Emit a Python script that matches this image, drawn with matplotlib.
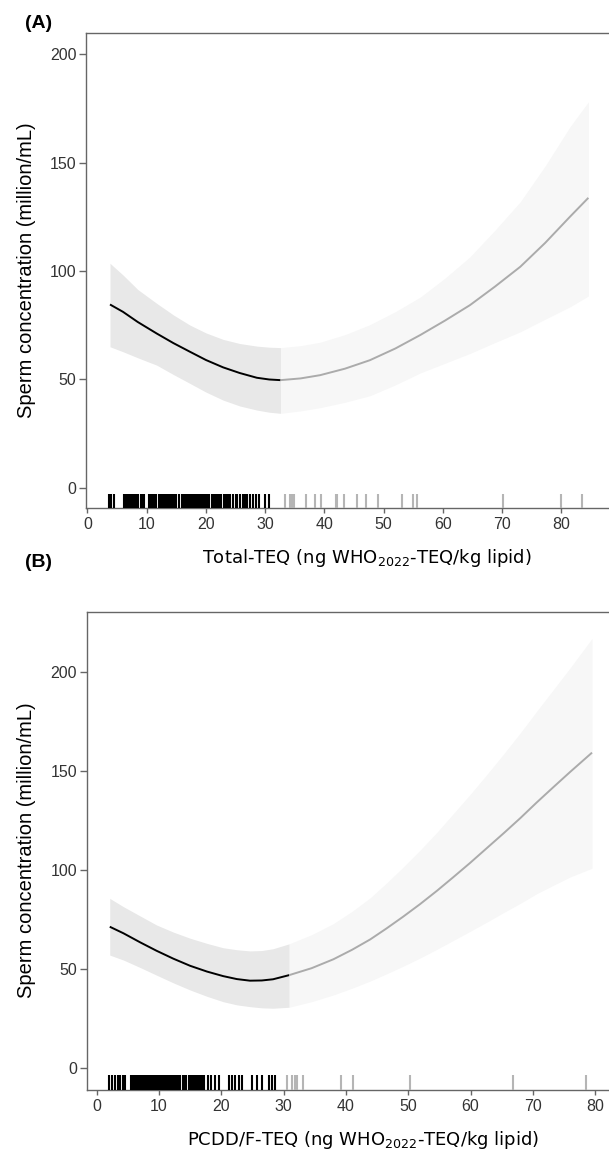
# restricted cubic spline fits of sperm concentration vs TEQ, two panels
import numpy as np
import matplotlib.pyplot as plt

plt.rcParams['font.family'] = ['Liberation Sans', 'DejaVu Sans']
plt.rcParams['mathtext.fontset'] = 'dejavusans'

# ---- panel A : Total-TEQ ----
a_x_in = [3.8, 6.0, 8.5, 11.7, 14.5, 17.3, 20.0, 22.9, 25.7, 28.6, 30.7, 32.6]
a_fit_in = [84.6, 81.2, 76.5, 71.2, 66.8, 62.8, 59.0, 55.6, 53.0, 50.8, 50.0, 49.7]
a_lo_in = [65.1, 62.8, 60.0, 56.6, 52.3, 48.2, 44.2, 40.5, 37.8, 35.9, 34.9, 34.4]
a_hi_in = [103.6, 98.2, 91.5, 85.1, 79.8, 75.1, 71.5, 68.5, 66.6, 65.4, 64.9, 64.7]

a_x_out = [32.6, 36.0, 39.3, 43.5, 47.7, 52.0, 56.2, 60.4, 64.6, 68.8, 73.1,
           77.3, 81.5, 84.6]
a_fit_out = [49.7, 50.5, 52.0, 55.0, 58.9, 64.3, 70.5, 77.2, 84.3, 92.8,
             102.0, 113.0, 125.1, 133.8]
a_lo_out = [34.4, 35.5, 37.0, 39.5, 42.5, 47.5, 53.0, 57.5, 62.0, 67.0, 72.0,
            77.8, 83.5, 88.5]
a_hi_out = [64.7, 65.6, 67.2, 70.7, 75.3, 81.3, 88.0, 96.8, 106.6, 118.8,
            132.0, 148.5, 166.6, 178.1]

a_rug_in = [3.6, 4.0, 4.5, 6.2, 6.5, 6.8, 7.1, 7.4, 7.7, 8.0, 8.3, 8.6, 9.0,
            9.3, 9.6, 10.4, 10.7, 11.0, 11.3, 11.6, 12.0, 12.3, 12.6, 12.9,
            13.3, 13.6, 13.9, 14.2, 14.6, 14.9, 15.5, 15.9, 16.2, 16.5, 16.8,
            17.1, 17.4, 17.8, 18.1, 18.4, 18.7, 19.0, 19.4, 19.7, 20.0, 20.3,
            20.6, 21.0, 21.3, 21.6, 21.9, 22.2, 22.6, 23.0, 23.4, 23.7, 24.0,
            24.6, 25.0, 25.3, 25.7, 26.3, 26.6, 27.0, 27.5, 28.0, 28.4, 29.0,
            30.0, 30.7]
a_rug_out = [33.4, 34.2, 34.5, 34.8, 36.9, 38.4, 39.4, 42.0, 42.2, 43.3, 45.6,
             47.0, 49.0, 53.2, 54.9, 55.7, 70.1, 80.0, 83.5]

# ---- panel B : PCDD/F-TEQ ----
b_x_in = [2.1, 4.3, 7.0, 9.6, 12.3, 15.0, 17.7, 20.3, 22.5, 24.6, 26.5, 28.3,
          30.9]
b_fit_in = [71.4, 68.1, 63.5, 59.3, 55.3, 51.7, 48.8, 46.5, 45.0, 44.2, 44.3,
            44.9, 47.0]
b_lo_in = [57.1, 54.6, 50.8, 47.0, 43.1, 39.5, 36.3, 33.6, 32.0, 31.1, 30.5,
           30.3, 30.8]
b_hi_in = [85.7, 81.5, 76.8, 72.3, 68.7, 65.6, 63.0, 60.8, 59.8, 59.2, 59.4,
           60.3, 62.8]

b_x_out = [30.9, 34.5, 38.0, 41.0, 43.9, 46.5, 49.2, 51.9, 54.6, 57.2, 59.9,
           62.6, 65.3, 68.0, 70.6, 73.3, 76.0, 79.5]
b_fit_out = [47.0, 50.5, 55.0, 59.8, 65.0, 70.5, 76.5, 82.8, 89.5, 96.3,
             103.5, 111.0, 118.5, 126.2, 134.0, 141.8, 149.5, 159.2]
b_lo_out = [30.8, 33.6, 37.0, 40.4, 44.0, 47.6, 51.5, 55.6, 60.0, 64.4, 69.0,
            73.7, 78.5, 83.2, 88.0, 92.3, 96.5, 100.9]
b_hi_out = [62.8, 67.4, 73.0, 79.2, 86.0, 93.4, 101.5, 110.0, 119.0, 128.3,
            138.0, 148.1, 158.5, 169.2, 180.0, 191.0, 202.0, 216.8]

b_rug_in = [2.0, 2.4, 3.0, 3.4, 3.7, 4.2, 4.5, 5.5, 5.8, 6.1, 6.4, 6.7, 7.0,
            7.3, 7.6, 7.9, 8.2, 8.5, 8.8, 9.1, 9.4, 9.7, 10.0, 10.4, 10.7,
            11.0, 11.3, 11.6, 11.9, 12.2, 12.5, 12.8, 13.1, 13.4, 13.8, 14.1,
            14.4, 14.8, 15.1, 15.4, 15.7, 16.0, 16.3, 16.6, 16.9, 17.2, 17.8,
            18.3, 19.0, 19.7, 21.3, 21.7, 22.2, 22.9, 23.3, 25.0, 25.7, 26.5,
            27.7, 28.1, 28.6]
b_rug_out = [30.5, 31.3, 31.8, 32.2, 33.1, 39.2, 41.1, 50.3, 66.8, 78.5]

xticks = [0, 10, 20, 30, 40, 50, 60, 70, 80]
yticks = [0, 50, 100, 150, 200]

dark_band = '#e8e8e8'
light_band = '#f7f7f7'
grey_line = '#ababab'
spine_col = '#666666'

# the panels run past the right edge of the page (cropped in the original)
fig = plt.figure(figsize=(6.09, 11.51), dpi=100)
axA = fig.add_axes([86.3 / 609, 0.5586, (647 - 86.3) / 609, 0.4125])
axB = fig.add_axes([86.7 / 609, 0.0534, (640 - 86.7) / 609, 0.4152])


def draw_panel(ax, x_in, fit_in, lo_in, hi_in, x_out, fit_out, lo_out, hi_out,
               rug_in, rug_out, xlim, ylim, xlabel):
    ax.fill_between(x_in, lo_in, hi_in, color=dark_band, lw=0, zorder=1)
    ax.fill_between(x_out, lo_out, hi_out, color=light_band, lw=0, zorder=1)
    ax.plot(x_in, fit_in, color='black', lw=1.4, zorder=3,
            solid_capstyle='butt', solid_joinstyle='round')
    ax.plot(x_out, fit_out, color=grey_line, lw=1.4, zorder=3,
            solid_capstyle='butt', solid_joinstyle='round')
    trans = ax.get_xaxis_transform()
    ax.vlines(rug_in, 0, 0.03, transform=trans, color='black', lw=1.5,
              zorder=4)
    ax.vlines(rug_out, 0, 0.03, transform=trans, color='#b5b5b5', lw=1.5,
              zorder=4)
    ax.set_xlim(*xlim)
    ax.set_ylim(*ylim)
    ax.set_xticks(xticks)
    ax.set_yticks(yticks)
    ax.spines['right'].set_visible(False)
    for s in ['left', 'top', 'bottom']:
        ax.spines[s].set_color(spine_col)
        ax.spines[s].set_linewidth(1.0)
    ax.tick_params(axis='both', colors='#333333', labelsize=11.5, width=1.0)
    ax.tick_params(axis='x', length=3.5, pad=3)
    ax.tick_params(axis='y', length=5, pad=2)
    ax.tick_params(axis='both', color=spine_col)
    ax.set_ylabel('Sperm concentration (million/mL)', fontsize=14.5,
                  labelpad=10)
    ax.set_xlabel(xlabel, fontsize=13, family=['DejaVu Sans'], labelpad=11)


draw_panel(axA, a_x_in, a_fit_in, a_lo_in, a_hi_in,
           a_x_out, a_fit_out, a_lo_out, a_hi_out,
           a_rug_in, a_rug_out, (-0.2, 94.5), (-9.3, 209.7),
           r'Total-TEQ (ng WHO$_{2022}$-TEQ/kg lipid)')
draw_panel(axB, b_x_in, b_fit_in, b_lo_in, b_hi_in,
           b_x_out, b_fit_out, b_lo_out, b_hi_out,
           b_rug_in, b_rug_out, (-1.6, 87.2), (-10.7, 230.3),
           r'PCDD/F-TEQ (ng WHO$_{2022}$-TEQ/kg lipid)')

fig.text(25 / 609, 1 - 24 / 1151, '(A)', fontsize=14, fontweight='bold',
         va='center', ha='left')
fig.text(25 / 609, 1 - 563 / 1151, '(B)', fontsize=14, fontweight='bold',
         va='center', ha='left')

fig.savefig('out.png', dpi=100)
